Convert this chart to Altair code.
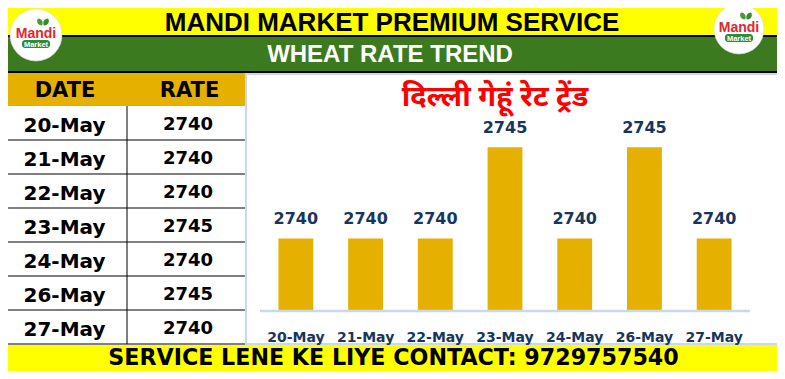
import altair as alt
import pandas as pd

# ---------------- data ----------------
dates = ["20-May", "21-May", "22-May", "23-May", "24-May", "26-May", "27-May"]
rates = [2740, 2740, 2740, 2745, 2740, 2745, 2740]
header_title = "MANDI MARKET PREMIUM SERVICE"
sub_title = "WHEAT RATE TREND"
chart_title = "दिल्ली गेहूं रेट ट्रेंड"
col_headers = ["DATE", "RATE"]
footer_text = "SERVICE LENE KE LIYE CONTACT: 9729757540"
logo_word = "Mandi"
logo_sub = "Market"
y_floor = 2736

df = pd.DataFrame({"date": dates, "rate": rates})

# ---------------- layout helpers ----------------
W, H = 769, 363
OX, OY = 8, 8  # page margin: reference pixel -> chart pixel


def px(x):
    return x - OX


def py(y):
    return y - OY


one = alt.Data(values=[{"k": 0}])

YELLOW = "#FFFF00"
GREEN = "#3B7A1E"
GOLD = "#E6B000"
LBLUE = "#C6D9F0"
NAVY = "#17365D"
TF = "DejaVu Sans"
HF = "Liberation Sans"


def box(x0, y0, x1, y1, **kw):
    return alt.Chart(one).mark_rect(**kw).encode(
        x=alt.value(px(x0)), x2=alt.value(px(x1)),
        y=alt.value(py(y0)), y2=alt.value(py(y1)))


def hline(x0, x1, y, color="black", w=1):
    return alt.Chart(one).mark_rule(color=color, strokeWidth=w).encode(
        x=alt.value(px(x0)), x2=alt.value(px(x1)), y=alt.value(py(y)))


def vline(x, y0, y1, color="black", w=1):
    return alt.Chart(one).mark_rule(color=color, strokeWidth=w).encode(
        x=alt.value(px(x)), y=alt.value(py(y0)), y2=alt.value(py(y1)))


def label(text, x, y, **kw):
    return alt.Chart(one).mark_text(text=text, **kw).encode(
        x=alt.value(px(x)), y=alt.value(py(y)))


LEAF = "M0,1 C-0.9,0.3 -0.7,-0.6 0,-1 C0.7,-0.6 0.9,0.3 0,1 Z"


def logo(cx, cy, d):
    parts = [
        alt.Chart(one).mark_point(shape="circle", filled=True, color="white",
                                  opacity=1, size=d * d, stroke="#d8d8d8",
                                  strokeWidth=0.6).encode(
            x=alt.value(px(cx)), y=alt.value(py(cy))),
        alt.Chart(one).mark_point(shape=LEAF, filled=True, color="#4C9A35",
                                  opacity=1, size=70, angle=330).encode(
            x=alt.value(px(cx + 4)), y=alt.value(py(cy - 13))),
        alt.Chart(one).mark_point(shape=LEAF, filled=True, color="#3A8A2A",
                                  opacity=1, size=70, angle=30).encode(
            x=alt.value(px(cx + 10)), y=alt.value(py(cy - 13))),
        label(logo_word, cx, cy + 3, font=HF, fontWeight="bold", fontSize=14,
              color="#E3262E", align="center", baseline="alphabetic"),
        box(cx - 14, cy + 5, cx + 14, cy + 13, color="#2E8B3A", cornerRadius=3),
        label(logo_sub, cx, cy + 11.5, font=HF, fontWeight="bold", fontSize=7.5,
              color="white", align="center", baseline="alphabetic"),
    ]
    return parts


# ---------------- frame ----------------
layers = [
    box(0, 0, 785, 35, color=YELLOW),
    box(0, 35, 785, 37, color="black"),
    box(0, 37, 785, 71, color=GREEN),
    box(0, 71, 785, 73, color="black"),
    box(0, 73, 245, 106, color=GOLD),
    box(0, 345, 785, 377, color=YELLOW),
    box(0, 377, 785, 379, color="black"),
]
for yy in [140, 174, 208, 242, 276, 310, 344]:
    layers.append(hline(0, 245, yy))
layers.append(vline(127, 106, 344))
layers.append(box(246, 74, 780, 344, filled=False, stroke=LBLUE, strokeWidth=2))

# texts
layers += [
    label(header_title, 392, 31, font=HF, fontWeight="bold", fontSize=26,
          color="black", align="center", baseline="alphabetic"),
    label(sub_title, 390, 62, font=HF, fontWeight="bold", fontSize=24,
          color="white", align="center", baseline="alphabetic"),
    label(col_headers[0], 65, 97, font=TF, fontWeight="bold", fontSize=21,
          color="black", align="center", baseline="alphabetic"),
    label(col_headers[1], 189.5, 97, font=TF, fontWeight="bold", fontSize=21,
          color="black", align="center", baseline="alphabetic"),
    label(footer_text, 393.5, 365, font=TF, fontWeight="bold", fontSize=22.2,
          color="black", align="center", baseline="alphabetic"),
    label(chart_title, 495, 97,
          font="Noto Sans Devanagari, Lohit Devanagari, Noto Sans, sans-serif",
          fontWeight="bold", fontSize=29, color="#FF0000", align="center",
          baseline="middle"),
]

# table body
ts = alt.Scale(type="point", domain=dates, range=[py(106), py(344)], padding=0.5)
layers.append(
    alt.Chart(df).mark_text(font=TF, fontWeight="bold", fontSize=20,
                            baseline="alphabetic", dy=8.5, color="black",
                            align="center").encode(
        y=alt.Y("date:N", scale=ts, axis=None),
        x=alt.value(px(64.5)),
        text="date:N"))
layers.append(
    alt.Chart(df).mark_text(font=TF, fontWeight="bold", fontSize=18,
                            baseline="alphabetic", dy=6.5, color="black",
                            align="center").encode(
        y=alt.Y("date:N", scale=ts, axis=None),
        x=alt.value(px(188)),
        text="rate:Q"))

# bar chart
xs = alt.Scale(type="band", domain=dates, range=[px(261), px(749)],
               paddingInner=0.5, paddingOuter=0.25)
ys = alt.Scale(domain=[2736, 2746], range=[py(311.5), py(128.9)],
               zero=False, nice=False)

layers.append(
    alt.Chart(df).mark_bar(color=GOLD).encode(
        x=alt.X("date:N", scale=xs, axis=None),
        y=alt.Y("rate:Q", scale=ys, axis=None),
        y2=alt.datum(y_floor)))
layers.append(hline(260, 750, 311, color=LBLUE, w=2.5))
layers.append(
    alt.Chart(df).mark_text(font=TF, fontWeight="bold", fontSize=16,
                            baseline="alphabetic", dy=-14, color=NAVY,
                            align="center").encode(
        x=alt.X("date:N", scale=xs, axis=None),
        y=alt.Y("rate:Q", scale=ys, axis=None),
        text="rate:Q"))
layers.append(
    alt.Chart(df).mark_text(font=TF, fontWeight="bold", fontSize=14,
                            baseline="alphabetic", color=NAVY,
                            align="center").encode(
        x=alt.X("date:N", scale=xs, axis=None),
        y=alt.value(py(341.7)),
        text="date:N"))

# logos
layers += logo(36, 35, 52)
layers += logo(739, 29, 50)

chart = alt.layer(*layers).resolve_scale(y="independent").properties(
    width=W, height=H, padding=0, autosize="none", background="white"
).configure_view(strokeWidth=0)

chart.save("out.html", embed_options={"renderer": "svg", "actions": False})
